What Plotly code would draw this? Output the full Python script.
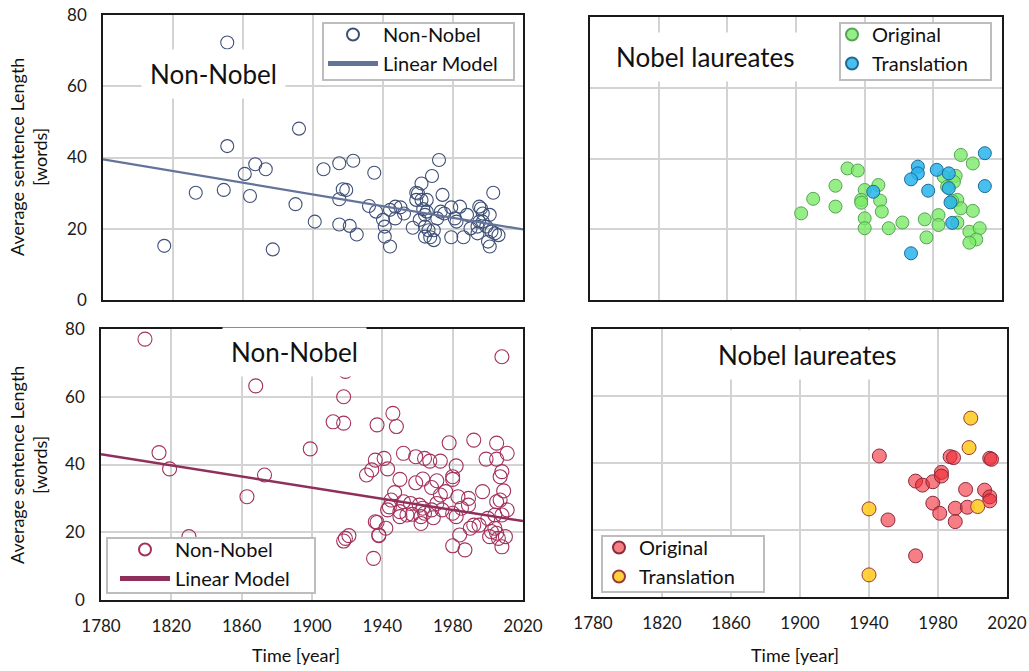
import plotly.graph_objects as go

# ---- Non-Nobel authors, upper panel ----
nn_top_year = [1851, 1851, 1892, 1815, 1833, 1849, 1861, 1867, 1873, 1864, 1877, 1890,
               1901, 1906, 1915, 1923, 1917, 1919, 1915, 1915, 1921, 1925, 1935, 1932,
               1936, 1940, 1941, 1941, 1944, 1944, 1947, 1950, 1947, 1952, 1957, 1959,
               1962, 1960, 1962, 1965, 1968, 1972, 1974, 1963, 1964, 1961, 1964, 1964,
               1967, 1969, 1969, 1971, 1973, 1979, 1979, 1981, 1984, 1986, 1988, 1990,
               1994, 1995, 1996, 1997, 1997, 1999, 2001, 2000, 2001, 2003, 2004, 2006,
               1994, 2002, 1959, 1965, 1966, 1975, 1982, 1995]
nn_top_len = [72.3, 43.2, 48.1, 15.2, 30.1, 30.9, 35.4, 38.1, 36.7, 29.2, 14.2, 26.9,
              22.0, 36.7, 38.4, 39.1, 31.1, 30.9, 28.3, 21.2, 20.8, 18.4, 35.7, 26.4,
              24.8, 22.5, 20.6, 17.8, 15.0, 25.3, 26.2, 26.0, 22.9, 24.3, 20.3, 30.1,
              32.7, 29.9, 28.1, 28.1, 34.8, 39.3, 29.5, 25.5, 23.9, 22.5, 20.6, 17.8,
              17.6, 16.8, 19.6, 22.9, 24.8, 17.6, 26.0, 22.9, 26.2, 17.6, 23.9, 20.1,
              18.7, 26.2, 25.7, 24.3, 22.0, 20.6, 23.9, 16.4, 15.0, 30.1, 18.7, 18.2,
              20.6, 19.2, 28.1, 24.8, 19.6, 24.3, 22.0, 22.0]
fit_top_year = [1780, 2020]
fit_top_len = [39.5, 19.8]

# ---- Nobel laureates, upper panel ----
orig_top_year = [1903, 1910, 1923, 1923, 1930, 1936, 1940, 1938, 1938, 1940, 1940, 1948,
                 1949, 1950, 1954, 1962, 1975, 1976, 1983, 1983, 1986, 1993, 1992, 1988,
                 1994, 1996, 2003, 1996, 2003, 1994, 2001, 2007, 2005, 2001, 1991]
orig_top_len = [24.5, 28.6, 32.3, 26.4, 37.2, 36.6, 31.1, 28.3, 27.5, 23.1, 20.3, 32.5,
                28.1, 25.0, 20.3, 21.9, 22.8, 17.7, 24.0, 21.2, 34.9, 35.1, 33.4, 32.0,
                28.3, 25.9, 25.2, 41.0, 38.6, 21.9, 19.3, 20.3, 17.1, 16.2, 28.0]
trans_top_year = [1971, 1971, 1967, 1977, 1982, 1989, 1989, 1990, 1991, 2010, 2010, 1967, 1945]
trans_top_len = [37.7, 35.8, 34.1, 30.9, 36.8, 35.8, 31.6, 27.6, 21.8, 41.5, 32.2, 13.2, 30.6]

# ---- Non-Nobel authors, lower panel ----
nn_bot_year = [1805, 1868, 1919, 1918, 1912, 1918, 1899, 1813, 1819, 1873, 1863, 1830,
               1919, 1921, 1918, 1935, 1937, 1938, 1937, 1936, 1931, 1934,
               1946, 1948, 1941, 1943, 1952, 1959, 1964, 1967, 1973, 1978, 1982, 1992,
               2005, 2011, 1999, 2005, 2008, 1950, 1959, 1963, 1971, 1968, 1980, 1980,
               1976, 1973, 1997, 2007, 2008, 2009, 2007, 2011, 1947, 1945, 1952, 1944,
               1950, 1950, 1957, 1963, 1964, 1962, 1969, 1974, 1980, 1982, 1989, 1989,
               1992, 1990, 1995, 1984, 1980, 1987, 1936, 1938, 1942, 1943, 2000, 2002,
               2001, 2004, 2005, 2006, 2008, 2010, 2004, 2008, 2005, 1968, 1971, 1961,
               1956, 1985, 1983, 1954, 1962]
nn_bot_len = [77.0, 63.2, 67.5, 60.0, 52.6, 52.2, 44.6, 43.5, 38.7, 36.9, 30.5, 18.7,
              18.2, 19.0, 17.4, 12.3, 22.9, 19.0, 51.7, 41.3, 36.9, 38.4,
              55.1, 51.2, 41.8, 38.7, 43.3, 42.3, 41.8, 41.0, 41.0, 46.4, 39.6, 47.2,
              46.3, 43.3, 41.6, 41.6, 71.8, 35.6, 34.6, 35.7, 35.2, 33.2, 36.4, 35.6,
              32.0, 31.0, 32.0, 36.4, 37.9, 32.2, 29.5, 26.6, 31.7, 29.5, 29.0, 27.5,
              26.1, 24.6, 25.3, 27.1, 25.6, 24.6, 24.3, 26.6, 25.6, 24.6, 30.0, 28.0,
              22.1, 21.2, 22.1, 19.2, 16.0, 14.8, 23.1, 19.2, 21.2, 26.6, 24.1, 20.2,
              18.7, 21.2, 19.7, 18.2, 15.7, 18.7, 25.1, 25.1, 29.0, 26.6, 28.5, 28.0,
              28.5, 27.1, 30.5, 25.1, 22.6]
fit_bot_year = [1780, 2020]
fit_bot_len = [43.0, 23.3]

# ---- Nobel laureates, lower panel ----
orig_bot_year = [1946, 1967, 1971, 1977, 1982, 1982, 1987, 1989, 2010, 2011, 1996, 2007,
                 2010, 2010, 1977, 1981, 1990, 1997, 1990, 1951, 1967]
orig_bot_len = [42.1, 34.6, 33.4, 34.4, 37.2, 36.1, 41.9, 41.6, 41.4, 41.1, 32.1, 31.9,
                29.9, 28.7, 28.0, 25.0, 26.5, 26.8, 22.5, 23.0, 12.3]
trans_bot_year = [1940, 1940, 2003, 1998, 1999]
trans_bot_len = [26.3, 6.6, 27.0, 44.6, 53.4]

YEAR_TICKS = [1780, 1820, 1860, 1900, 1940, 1980, 2020]
LEN_TICKS = [0, 20, 40, 60, 80]

FONT = "Lato"
GRID = "#D3D3D3"
W, H = 1029, 671


def xdom(a, b):
    return [a / W, b / W]


def ydom(top, bottom):
    return [1 - bottom / H, 1 - top / H]


fig = go.Figure()

# upper left
fig.add_trace(go.Scatter(x=nn_top_year, y=nn_top_len, mode="markers", name="Non-Nobel",
                         marker=dict(symbol="circle-open", size=13, color="#3F5077",
                                     line=dict(width=1.1)),
                         xaxis="x", yaxis="y", legend="legend"))
fig.add_trace(go.Scatter(x=fit_top_year, y=fit_top_len, mode="lines", name="Linear Model",
                         line=dict(color="#63739A", width=2.2),
                         xaxis="x", yaxis="y", legend="legend"))

# upper right
fig.add_trace(go.Scatter(x=orig_top_year, y=orig_top_len, mode="markers", name="Original",
                         marker=dict(size=13, color="rgba(120,235,100,0.78)",
                                     line=dict(color="#56A356", width=1)),
                         xaxis="x2", yaxis="y2", legend="legend2"))
fig.add_trace(go.Scatter(x=trans_top_year, y=trans_top_len, mode="markers", name="Translation",
                         marker=dict(size=13, color="rgba(40,180,236,0.85)",
                                     line=dict(color="#1D6A96", width=1)),
                         xaxis="x2", yaxis="y2", legend="legend2"))

# lower left
fig.add_trace(go.Scatter(x=nn_bot_year, y=nn_bot_len, mode="markers", name="Non-Nobel",
                         marker=dict(symbol="circle-open", size=14, color="#A3325C",
                                     line=dict(width=1.1)),
                         xaxis="x3", yaxis="y3", legend="legend3"))
fig.add_trace(go.Scatter(x=fit_bot_year, y=fit_bot_len, mode="lines", name="Linear Model",
                         line=dict(color="#8E2F5C", width=2.5),
                         xaxis="x3", yaxis="y3", legend="legend3"))

# lower right
fig.add_trace(go.Scatter(x=orig_bot_year, y=orig_bot_len, mode="markers", name="Original",
                         marker=dict(size=14, color="rgba(240,40,50,0.6)",
                                     line=dict(color="#8A2A3C", width=1)),
                         xaxis="x4", yaxis="y4", legend="legend4"))
fig.add_trace(go.Scatter(x=trans_bot_year, y=trans_bot_len, mode="markers", name="Translation",
                         marker=dict(size=14, color="rgba(255,205,40,0.9)",
                                     line=dict(color="#9A3A3A", width=1)),
                         xaxis="x4", yaxis="y4", legend="legend4"))

axis_common = dict(showgrid=True, gridcolor=GRID, gridwidth=1.5, zeroline=False,
                   showline=True, linecolor="#1A1A1A", linewidth=1.6, mirror=True,
                   automargin=False, ticks="outside", tickcolor="rgba(0,0,0,0)",
                   tickfont=dict(family=FONT, size=17, color="#1A1A1A"))

xcommon = dict(axis_common, range=[1780, 2020], tickvals=YEAR_TICKS, ticklen=10)
ycommon = dict(axis_common, range=[0, 80], tickvals=LEN_TICKS, ticklen=11)

# legends are transparent; their framed white boxes are drawn as shapes below
legend_common = dict(bgcolor="rgba(0,0,0,0)", borderwidth=0,
                     font=dict(family=FONT, size=20, color="#111"),
                     xanchor="left", yanchor="top", tracegroupgap=0,
                     itemsizing="constant")

fig.update_layout(
    width=W, height=H,
    margin=dict(l=0, r=0, t=0, b=0, autoexpand=False),
    paper_bgcolor="white", plot_bgcolor="white",
    font=dict(family=FONT, color="#111"),
    xaxis=dict(xcommon, domain=xdom(103, 523), anchor="y", showticklabels=False),
    yaxis=dict(ycommon, domain=ydom(15, 300), anchor="x"),
    xaxis2=dict(xcommon, domain=xdom(590, 1002), anchor="y2", showticklabels=False),
    yaxis2=dict(ycommon, domain=ydom(17, 300), anchor="x2", showticklabels=False),
    xaxis3=dict(xcommon, domain=xdom(101, 523), anchor="y3"),
    yaxis3=dict(ycommon, domain=ydom(329, 600), anchor="x3"),
    xaxis4=dict(xcommon, domain=xdom(593, 1007), anchor="y4"),
    yaxis4=dict(ycommon, domain=ydom(329, 597), anchor="x4", showticklabels=False),
    legend=dict(legend_common, x=323 / W, y=1 - 15 / H, itemwidth=50),
    legend2=dict(legend_common, x=832 / W, y=1 - 15 / H, itemwidth=30),
    legend3=dict(legend_common, x=115 / W, y=1 - 530 / H, itemwidth=50),
    legend4=dict(legend_common, x=599 / W, y=1 - 528 / H, itemwidth=30),
    showlegend=True,
)

# framed legend boxes (left, top, right, bottom in pixels)
legend_boxes = [(323, 23, 514, 80), (840, 23, 991, 80), (107, 538, 315, 593), (602, 536, 764, 592)]
for x0, y0, x1, y1 in legend_boxes:
    fig.add_shape(type="rect", xref="paper", yref="paper",
                  x0=x0 / W, x1=x1 / W, y0=1 - y1 / H, y1=1 - y0 / H,
                  fillcolor="white", line=dict(color="#BDBDBD", width=2), layer="above")

# panel titles on white boxes
titles = [
    ("x", "y", 1843, 63.5, "Non-Nobel"),
    ("x2", "y2", 1847, 68.7, "Nobel laureates"),
    ("x3", "y3", 1890, 73.2, "Non-Nobel"),
    ("x4", "y4", 1904, 72.2, "Nobel laureates"),
]
for xr, yr, xv, yv, txt in titles:
    fig.add_annotation(x=xv, y=yv, xref=xr, yref=yr, text=txt, showarrow=False,
                       xanchor="center", yanchor="middle",
                       font=dict(family=FONT, size=26, color="#111"),
                       bgcolor="white", borderpad=8)

# axis titles
for yc in (157, 465):
    fig.add_annotation(x=28 / W, y=1 - yc / H, xref="paper", yref="paper",
                       xanchor="center", yanchor="middle",
                       text="Average sentence Length<br>[words]", textangle=-90,
                       showarrow=False, font=dict(family=FONT, size=18, color="#111"))
for xc in (296, 795):
    fig.add_annotation(x=xc / W, y=1 - 655 / H, xref="paper", yref="paper",
                       xanchor="center", yanchor="middle",
                       text="Time [year]", showarrow=False,
                       font=dict(family=FONT, size=18, color="#111"))

fig.write_html("out.html")
